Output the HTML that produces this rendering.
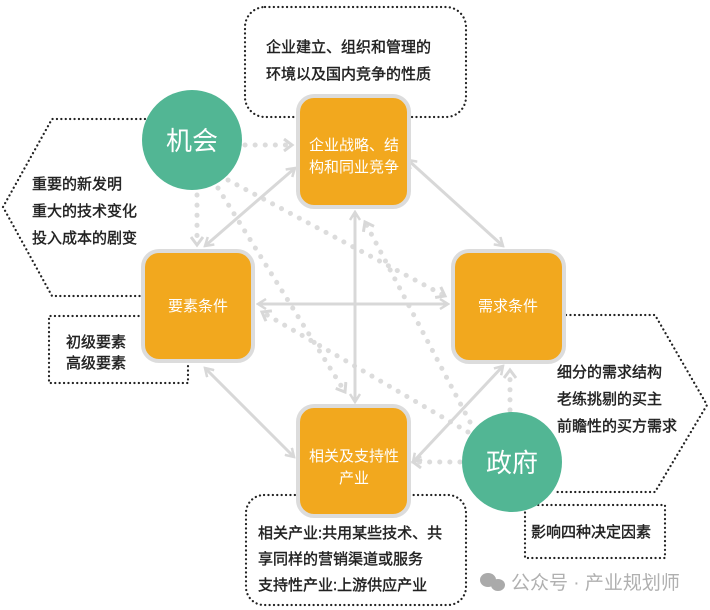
<!DOCTYPE html>
<html><head><meta charset="utf-8"><style>
html,body{margin:0;padding:0;background:#fff}
svg{display:block}
text{font-family:"Liberation Sans","Noto Sans CJK SC",sans-serif}
</style></head><body>
<svg width="710" height="610" viewBox="0 0 710 610" xmlns="http://www.w3.org/2000/svg">
<defs>
<marker id="a" viewBox="0 0 12 12" refX="10" refY="6" markerWidth="12" markerHeight="12" markerUnits="userSpaceOnUse" orient="auto-start-reverse">
<polyline points="2,1 10,6 2,11" fill="none" stroke="#d8d8d8" stroke-width="2.5"/>
</marker>
<marker id="b" viewBox="0 0 14 14" refX="11" refY="7" markerWidth="14" markerHeight="14" markerUnits="userSpaceOnUse" orient="auto">
<polyline points="3,1 11,7 3,13" fill="none" stroke="#d8d8d8" stroke-width="3"/>
</marker>
</defs>
<g fill="none" stroke="#222" stroke-width="2.2" stroke-dasharray="0.1 4.3" stroke-linecap="round">
<rect x="245" y="7" width="221" height="110" rx="20"/>
<polyline points="145,119 52,119 3,207 52,296 145,296"/>
<polyline points="143,316 49,316 49,383 188,383 188,363"/>
<polyline points="566,315 655,315 707,405 655,492 555,492"/>
<rect x="525" y="505" width="140" height="53"/>
<rect x="246" y="495" width="220" height="110" rx="18"/>
</g>
<g fill="none" stroke="#dcdcdc" stroke-width="5" stroke-dasharray="0.1 10" stroke-linecap="round">
<line x1="245" y1="145" x2="292" y2="145" marker-end="url(#b)"/>
<line x1="197" y1="195" x2="197" y2="245" marker-end="url(#b)"/>
<line x1="228" y1="180" x2="445" y2="296" marker-end="url(#b)"/>
<line x1="218" y1="188" x2="345" y2="392" marker-end="url(#b)"/>
<line x1="460" y1="462" x2="413" y2="462" marker-end="url(#b)"/>
<line x1="510" y1="410" x2="510" y2="370" marker-end="url(#b)"/>
<line x1="468" y1="432" x2="262" y2="312" marker-end="url(#b)"/>
<line x1="470" y1="422" x2="365" y2="222" marker-end="url(#b)"/>
</g>
<g stroke="#d8d8d8" stroke-width="3" fill="none">
<line x1="295" y1="168" x2="205" y2="246" marker-start="url(#a)" marker-end="url(#a)"/>
<line x1="408" y1="160" x2="503" y2="246" marker-start="url(#a)" marker-end="url(#a)"/>
<line x1="205" y1="368" x2="294" y2="457" marker-start="url(#a)" marker-end="url(#a)"/>
<line x1="503" y1="366" x2="413" y2="462" marker-start="url(#a)" marker-end="url(#a)"/>
<line x1="355" y1="212" x2="355" y2="402" marker-start="url(#a)" marker-end="url(#a)"/>
<line x1="258" y1="304" x2="448" y2="304" marker-start="url(#a)" marker-end="url(#a)"/>
</g>
<g fill="#f2a81e" stroke="#dcdcdc" stroke-width="4">
<rect x="298" y="96" width="111" height="111" rx="16"/>
<rect x="143" y="251" width="110" height="110" rx="16"/>
<rect x="453" y="251" width="111" height="111" rx="16"/>
<rect x="298" y="406" width="111" height="110" rx="16"/>
</g>
<circle cx="192" cy="140" r="50" fill="#52b694"/>
<circle cx="512" cy="462" r="50" fill="#52b694"/>
<g fill="#fff" font-size="15" text-anchor="middle">
<text x="354" y="150">企业战略、结</text>
<text x="354" y="172">构和同业竞争</text>
<text x="198" y="311">要素条件</text>
<text x="508" y="311">需求条件</text>
<text x="354" y="461">相关及支持性</text>
<text x="354" y="483">产业</text>
<text x="192" y="150" font-size="26">机会</text>
<text x="512" y="472" font-size="26">政府</text>
</g>
<g fill="#222" font-size="15" stroke="#222" stroke-width="0.4">
<text x="266" y="52">企业建立、组织和管理的</text>
<text x="266" y="79">环境以及国内竞争的性质</text>
<text x="32" y="189">重要的新发明</text>
<text x="32" y="216">重大的技术变化</text>
<text x="32" y="243">投入成本的剧变</text>
<text x="66" y="347">初级要素</text>
<text x="66" y="368">高级要素</text>
<text x="557" y="377">细分的需求结构</text>
<text x="557" y="404">老练挑剔的买主</text>
<text x="557" y="431">前瞻性的买方需求</text>
<text x="531" y="537">影响四种决定因素</text>
<text x="258" y="538">相关产业:共用某些技术、共</text>
<text x="258" y="564">享同样的营销渠道或服务</text>
<text x="258" y="590">支持性产业:上游供应产业</text>
</g>
<g fill="#aaa">
<ellipse cx="488" cy="580" rx="8" ry="7"/>
<ellipse cx="498" cy="585" rx="7" ry="6"/>
<text x="511" y="589" font-size="19" fill="#b0b0b0">公众号 · 产业规划师</text>
</g>
</svg>
</body></html>
